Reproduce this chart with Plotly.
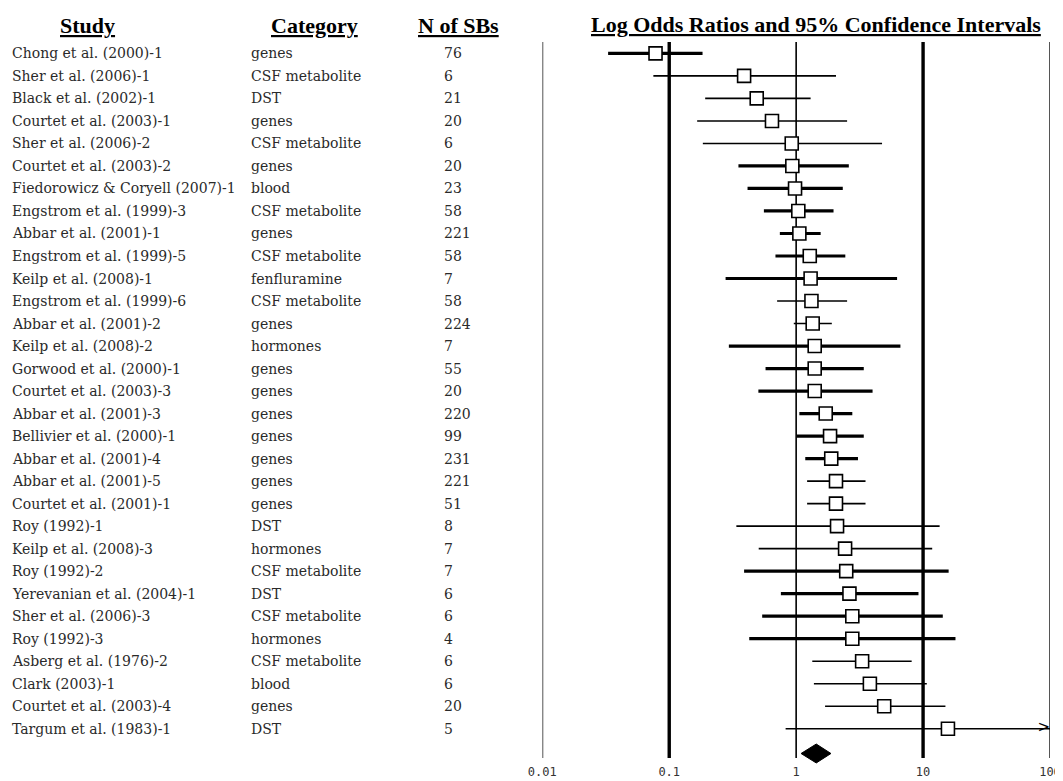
import numpy as np
import plotly.graph_objects as go

# ---------------- data ----------------
studies = [
    "Chong et al. (2000)-1", "Sher et al. (2006)-1", "Black et al. (2002)-1",
    "Courtet et al. (2003)-1", "Sher et al. (2006)-2", "Courtet et al. (2003)-2",
    "Fiedorowicz & Coryell (2007)-1", "Engstrom et al. (1999)-3", "Abbar et al. (2001)-1",
    "Engstrom et al. (1999)-5", "Keilp et al. (2008)-1", "Engstrom et al. (1999)-6",
    "Abbar et al. (2001)-2", "Keilp et al. (2008)-2", "Gorwood et al. (2000)-1",
    "Courtet et al. (2003)-3", "Abbar et al. (2001)-3", "Bellivier et al. (2000)-1",
    "Abbar et al. (2001)-4", "Abbar et al. (2001)-5", "Courtet et al. (2001)-1",
    "Roy (1992)-1", "Keilp et al. (2008)-3", "Roy (1992)-2",
    "Yerevanian et al. (2004)-1", "Sher et al. (2006)-3", "Roy (1992)-3",
    "Asberg et al. (1976)-2", "Clark (2003)-1", "Courtet et al. (2003)-4",
    "Targum et al. (1983)-1",
]
categories = [
    "genes", "CSF metabolite", "DST", "genes", "CSF metabolite", "genes",
    "blood", "CSF metabolite", "genes", "CSF metabolite", "fenfluramine",
    "CSF metabolite", "genes", "hormones", "genes", "genes", "genes", "genes",
    "genes", "genes", "genes", "DST", "hormones", "CSF metabolite", "DST",
    "CSF metabolite", "hormones", "CSF metabolite", "blood", "genes", "DST",
]
n_sbs = [76, 6, 21, 20, 6, 20, 23, 58, 221, 58, 7, 58, 224, 7, 55, 20, 220, 99,
         231, 221, 51, 8, 7, 7, 6, 6, 4, 6, 6, 20, 5]
odds_ratio = [0.078, 0.389, 0.489, 0.645, 0.923, 0.933, 0.98, 1.04, 1.06, 1.28,
              1.30, 1.32, 1.35, 1.40, 1.40, 1.40, 1.71, 1.85, 1.89, 2.06, 2.06,
              2.10, 2.43, 2.48, 2.63, 2.77, 2.77, 3.31, 3.81, 4.94, 15.7]
ci_low = [0.033, 0.075, 0.192, 0.166, 0.184, 0.351, 0.414, 0.557, 0.744, 0.687,
          0.278, 0.708, 0.958, 0.295, 0.574, 0.504, 1.06, 1.01, 1.18, 1.22, 1.22,
          0.338, 0.507, 0.389, 0.758, 0.54, 0.427, 1.34, 1.38, 1.69, 0.826]
# None = upper limit beyond the plotted scale (drawn with an arrow)
ci_high = [0.183, 2.06, 1.30, 2.52, 4.75, 2.60, 2.33, 1.97, 1.56, 2.44, 6.24,
           2.52, 1.91, 6.63, 3.41, 4.0, 2.77, 3.41, 3.07, 3.52, 3.52, 13.5, 11.8,
           15.9, 9.2, 14.3, 18.0, 8.13, 10.7, 15.0, None]
summary_or = 1.44
summary_low = 1.093
summary_high = 1.88

axis_ticks = [0.01, 0.1, 1, 10, 100]
axis_labels = ["0.01", "0.1", "1", "10", "100"]

headers = ["Study", "Category", "N of SBs"]
plot_title = "Log Odds Ratios and 95% Confidence Intervals"

# ---------------- styles ----------------
ci_thick = [True, False, False, False, False, True, True, True, True, True, True,
            False, False, True, True, True, True, True, True, False, False, False,
            False, True, True, True, True, False, False, False, False]
ref_line_colors = ["#555555", "#000000", "#000000", "#000000", "#555555"]
ref_line_widths = [2, 3.4, 1.6, 3.4, 2]

OFF = 8                      # page body margin in the viewer
W, H = 1063 - OFF, 781 - OFF
SERIF = "DejaVu Serif"
HEAD = "Liberation Serif"


def px_x(p):
    return (p - OFF) / W


def px_y(p):
    return 1 - (p - OFF) / H


n = len(studies)
rows = list(range(1, n + 1))
summary_row = n + 1.1
ROW_PX = 22.51
y_top, y_line_bot = 0.494, 32.30
y_bot = y_line_bot + (772 - 758) / ROW_PX      # room for the summary diamond
x_min, x_max = axis_ticks[0], axis_ticks[-1]

fig = go.Figure()

# reference vertical lines
for v, c, w in zip(axis_ticks, ref_line_colors, ref_line_widths):
    fig.add_trace(go.Scatter(x=[v, v], y=[y_top, y_line_bot], mode="lines",
                             line=dict(color=c, width=w), hoverinfo="skip",
                             showlegend=False, cliponaxis=False))

# confidence intervals
for thick, width in [(True, 3.2), (False, 1.6)]:
    xs, ys = [], []
    for r, lo, hi, t in zip(rows, ci_low, ci_high, ci_thick):
        if t != thick:
            continue
        xs += [lo, hi if hi is not None else x_max, None]
        ys += [r, r, None]
    fig.add_trace(go.Scatter(x=xs, y=ys, mode="lines",
                             line=dict(color="black", width=width),
                             hoverinfo="skip", showlegend=False))

# arrows for off-scale upper limits
arrow_rows = [r for r, hi in zip(rows, ci_high) if hi is None]
fig.add_trace(go.Scatter(x=[x_max] * len(arrow_rows), y=arrow_rows, mode="text",
                         text=[">"] * len(arrow_rows), textposition="middle left",
                         textfont=dict(family="DejaVu Sans", size=15, color="black"),
                         hoverinfo="skip", showlegend=False, cliponaxis=False))

# point estimates
fig.add_trace(go.Scatter(x=odds_ratio, y=rows, mode="markers",
                         marker=dict(symbol="square", size=13, color="white",
                                     line=dict(color="black", width=1.6)),
                         showlegend=False, cliponaxis=False))

# summary diamond
half_h = 0.42
fig.add_trace(go.Scatter(
    x=[summary_low, summary_or, summary_high, summary_or, summary_low],
    y=[summary_row, summary_row - half_h, summary_row, summary_row + half_h, summary_row],
    mode="lines", fill="toself", fillcolor="black",
    line=dict(color="black", width=1), hoverinfo="skip", showlegend=False))

# text columns
col_x = [12, 251, 444]
for r, s, c, nn in zip(rows, studies, categories, n_sbs):
    for xpx, txt in zip(col_x, [s, c, str(nn)]):
        fig.add_annotation(x=px_x(xpx - 2), xref="paper", y=r, yref="y", text=txt,
                           showarrow=False, xanchor="left", yanchor="middle",
                           font=dict(family=SERIF, size=14, color="#2a2a2a"))

head_x = [87, 314, 458]
for xpx, h in zip(head_x, headers):
    fig.add_annotation(x=px_x(xpx), xref="paper", y=px_y(26), yref="paper",
                       text=f"<b><u>{h}</u></b>", showarrow=False,
                       xanchor="center", yanchor="middle",
                       font=dict(family=HEAD, size=22, color="black"))
fig.add_annotation(x=px_x(815.5), xref="paper", y=px_y(24), yref="paper",
                   text=f"<b><u>{plot_title}</u></b>", showarrow=False,
                   xanchor="center", yanchor="middle",
                   font=dict(family=HEAD, size=22, color="black"))

fig.update_layout(
    template="none",
    width=W, height=H, margin=dict(l=0, r=0, t=0, b=0, autoexpand=False),
    paper_bgcolor="white", plot_bgcolor="white",
    xaxis=dict(type="log", range=[np.log10(x_min), np.log10(x_max)],
               domain=[px_x(542.3), px_x(1050)], showgrid=False, zeroline=False,
               showline=False, tickvals=axis_ticks, ticktext=axis_labels,
               ticks="", ticklabelstandoff=5, automargin=False,
               anchor="free", position=px_y(758),
               tickfont=dict(family="DejaVu Sans Mono", size=12, color="#333333")),
    yaxis=dict(range=[y_bot, y_top], domain=[px_y(772), px_y(42)],
               showgrid=False, zeroline=False, showline=False,
               showticklabels=False, automargin=False),
)

fig.write_html("out.html")
